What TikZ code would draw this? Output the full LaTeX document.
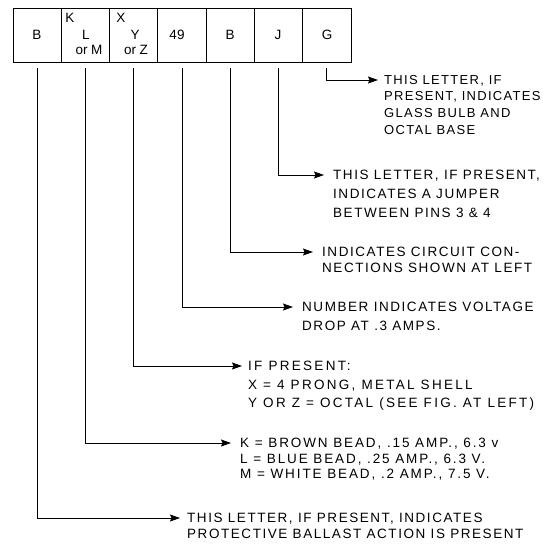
\documentclass[tikz,border=0pt]{standalone}
\usepackage{fontspec}
\setmainfont{Liberation Sans}
\newfontfamily\labfont[LetterSpace=11.5]{Liberation Sans}
\newfontfamily\labfontn[LetterSpace=10]{Liberation Sans}
\newfontfamily\labfontw[LetterSpace=17]{Liberation Sans}
\newfontfamily\labfontk[LetterSpace=14]{Liberation Sans}
\usetikzlibrary{arrows.meta}
\newcommand\labsize[1]{\fontsize{13.5}{#1}\selectfont\labfont}
\begin{document}
\begin{tikzpicture}[x=1pt,y=-1pt,
  cell/.style={draw, line width=0.9pt, minimum width=48.29pt, minimum height=54pt, inner sep=0, outer sep=0},
  boxtxt/.style={font=\fontsize{13.5}{15}\selectfont, inner sep=0},
  lab/.style={align=left, anchor=north west, inner sep=0},
  conn/.style={line width=0.9pt, -{Stealth[length=10pt,width=7pt,inset=1.5pt]}}
]
\useasboundingbox (0,0) rectangle (546,548);
% cells
\node[cell] (c1) at (37.14,35) {};
\node[cell] (c2) at (85.43,35) {};
\node[cell] (c3) at (133.71,35) {};
\node[cell] (c4) at (182.00,35) {};
\node[cell] (c5) at (230.29,35) {};
\node[cell] (c6) at (278.57,35) {};
\node[cell] (c7) at (326.86,35) {};
% cell texts
\node[boxtxt] (b1) at (37,35) {B};
\node[boxtxt] (b2k) at (70,18) {K};
\node[boxtxt] (b2l) at (86,35) {L};
\node[boxtxt] (b2m) at (89,50) {or M};
\node[boxtxt] (b3x) at (121,18) {X};
\node[boxtxt] (b3y) at (135,35) {Y};
\node[boxtxt] (b3z) at (136,50) {or Z};
\node[boxtxt] (b4) at (177,35) {49};
\node[boxtxt] (b5) at (230,35) {B};
\node[boxtxt] (b6) at (278,35) {J};
\node[boxtxt] (b7) at (327,35) {G};
% explanations
\node[lab, font=\fontsize{13}{16.7}\selectfont\labfontn] (t7) at (384,75) {THIS LETTER, IF\\PRESENT, INDICATES\\GLASS BULB AND\\OCTAL BASE};
\node[lab, font=\labsize{19}] (t6) at (333,170) {THIS LETTER, IF PRESENT,\\INDICATES A JUMPER\\BETWEEN PINS 3 \& 4};
\node[lab, font=\labsize{15.5}] (t5) at (322,247) {INDICATES CIRCUIT CON-\\NECTIONS SHOWN AT LEFT};
\node[lab, font=\labsize{19}] (t4) at (302,302) {NUMBER INDICATES VOLTAGE\\DROP AT .3 AMPS.};
\node[lab, font=\fontsize{13.5}{18.5}\selectfont\labfontw] (t3) at (248,361) {IF PRESENT:\\X = 4 PRONG, METAL SHELL\\Y OR Z = OCTAL (SEE FIG. AT LEFT)};
\node[lab, font=\fontsize{13.5}{15.5}\selectfont\labfontk] (t2) at (240,438) {K = BROWN BEAD, .15 AMP., 6.3 v\\L = BLUE BEAD, .25 AMP., 6.3 V.\\M = WHITE BEAD, .2 AMP., 7.5 V.};
\node[lab, font=\labsize{15.5}] (t1) at (187,513) {THIS LETTER, IF PRESENT, INDICATES\\PROTECTIVE BALLAST ACTION IS PRESENT};
% connectors
\draw[conn] ([yshift=-6pt]c7.south) |- ([xshift=-6pt,yshift=-5pt]t7.north west);
\draw[conn] ([yshift=-6pt]c6.south) |- ([xshift=-9pt,yshift=-5pt]t6.north west);
\draw[conn] ([yshift=-6pt]c5.south) |- ([xshift=-9pt,yshift=-5pt]t5.north west);
\draw[conn] ([yshift=-6pt]c4.south) |- ([xshift=-9pt,yshift=-5pt]t4.north west);
\draw[conn] ([yshift=-6pt]c3.south) |- ([xshift=-6pt,yshift=-5pt]t3.north west);
\draw[conn] ([yshift=-6pt]c2.south) |- ([xshift=-9pt,yshift=-5pt]t2.north west);
\draw[conn] ([yshift=-6pt]c1.south) |- ([xshift=-7pt,yshift=-5pt]t1.north west);
\end{tikzpicture}
\end{document}
